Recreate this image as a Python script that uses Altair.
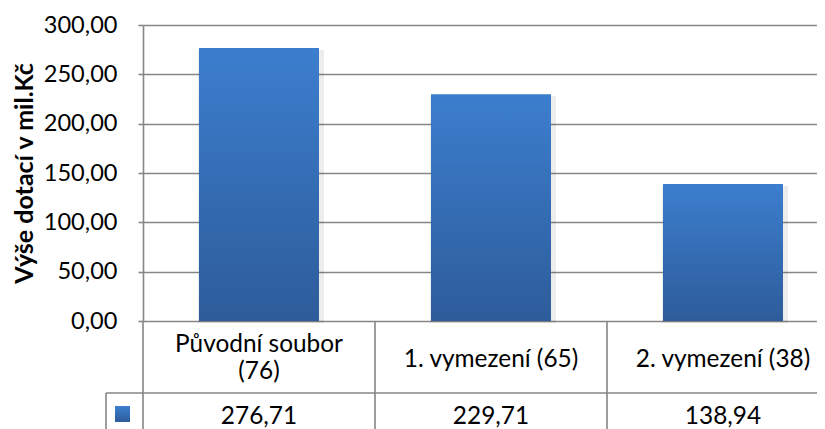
import altair as alt
import pandas as pd

# ---- data ----
categories = ["Původní soubor (76)", "1. vymezení (65)", "2. vymezení (38)"]
header_labels = ["Původní soubor\n(76)", "1. vymezení (65)", "2. vymezení (38)"]
values = [276.71, 229.71, 138.94]
y_ticks = [0, 50, 100, 150, 200, 250, 300]
y_title = "Výše dotací v mil.Kč"

df = pd.DataFrame({"cat": categories, "header": header_labels, "value": values})
one = pd.DataFrame({"k": [0]})

FONT = "Lato"
GRID = "#868686"
TXT = "#000000"

grad = alt.Gradient(
    gradient="linear",
    stops=[alt.GradientStop(color="#3c7ece", offset=0),
           alt.GradientStop(color="#2d5c9a", offset=1)],
    x1=0, x2=0, y1=0, y2=1,
)

xscale = alt.Scale(paddingInner=0, paddingOuter=0)
x = alt.X("cat:N", sort=categories, axis=None, scale=xscale)

yaxis = alt.Axis(
    values=y_ticks, title=y_title,
    titleFont=FONT, titleFontSize=25, titleFontWeight="bold", titleColor=TXT,
    titleX=-119, titleY=148, titleAngle=270, titleAlign="center", titleBaseline="middle",
    labelExpr="replace(format(datum.value, '.2f'), '.', ',')",
    labelFont=FONT, labelFontSize=23.6, labelColor=TXT, labelPadding=21,
    tickSize=5, tickColor=GRID, tickWidth=1.6,
    domainColor=GRID, domainWidth=1.6,
    grid=True, gridColor=GRID, gridWidth=1.6,
)
y = alt.Y("value:Q", scale=alt.Scale(domain=[0, 300], nice=False), axis=yaxis)

base = alt.Chart(df)

shadow = base.mark_bar(width=126, color="#000000", opacity=0.07, xOffset=2, yOffset=2, y2Offset=4).encode(x=x, y=y)
bars = base.mark_bar(width=120, color=grad).encode(x=x, y=y)

vlines = base.mark_rule(color=GRID, strokeWidth=1.6).encode(
    x=alt.X("cat:N", sort=categories, bandPosition=0, axis=None),
    y=alt.value(296), y2=alt.value(440),
)
hline = alt.Chart(one).mark_rule(color=GRID, strokeWidth=1.6).encode(
    x=alt.value(-37), x2=alt.value(720), y=alt.value(368)
)
keyline = alt.Chart(one).mark_rule(color=GRID, strokeWidth=1.6).encode(
    x=alt.value(-37), y=alt.value(368), y2=alt.value(440)
)
keybox = alt.Chart(one).mark_rect(color=grad).encode(
    x=alt.value(-28), x2=alt.value(-13), y=alt.value(381), y2=alt.value(397)
)

TFS = 24.4
header_single = base.transform_filter(
    "indexof(datum.header, '\\n') < 0"
).mark_text(font=FONT, fontSize=TFS, baseline="middle", color=TXT).encode(
    x=x, y=alt.value(335), text="header:N"
)
header_multi = base.transform_filter(
    "indexof(datum.header, '\\n') >= 0"
).mark_text(font=FONT, fontSize=TFS, lineBreak="\n", lineHeight=27,
            baseline="middle", color=TXT).encode(
    x=x, y=alt.value(320), text="header:N"
)
vals = base.transform_calculate(
    lab="replace(format(datum.value, '.2f'), '.', ',')"
).mark_text(font=FONT, fontSize=TFS, baseline="middle", color=TXT).encode(
    x=x, y=alt.value(392), text="lab:N"
)

chart = alt.layer(shadow, bars, vlines, hline, keyline, keybox,
                  header_single, header_multi, vals).properties(
    width=696, height=296,
    autosize=alt.AutoSizeParams(type="none"),
    padding={"left": 135, "top": 17, "right": -22, "bottom": 114},
).configure_view(stroke=None)

chart.save("out.html", embed_options={"renderer": "svg", "actions": False})
